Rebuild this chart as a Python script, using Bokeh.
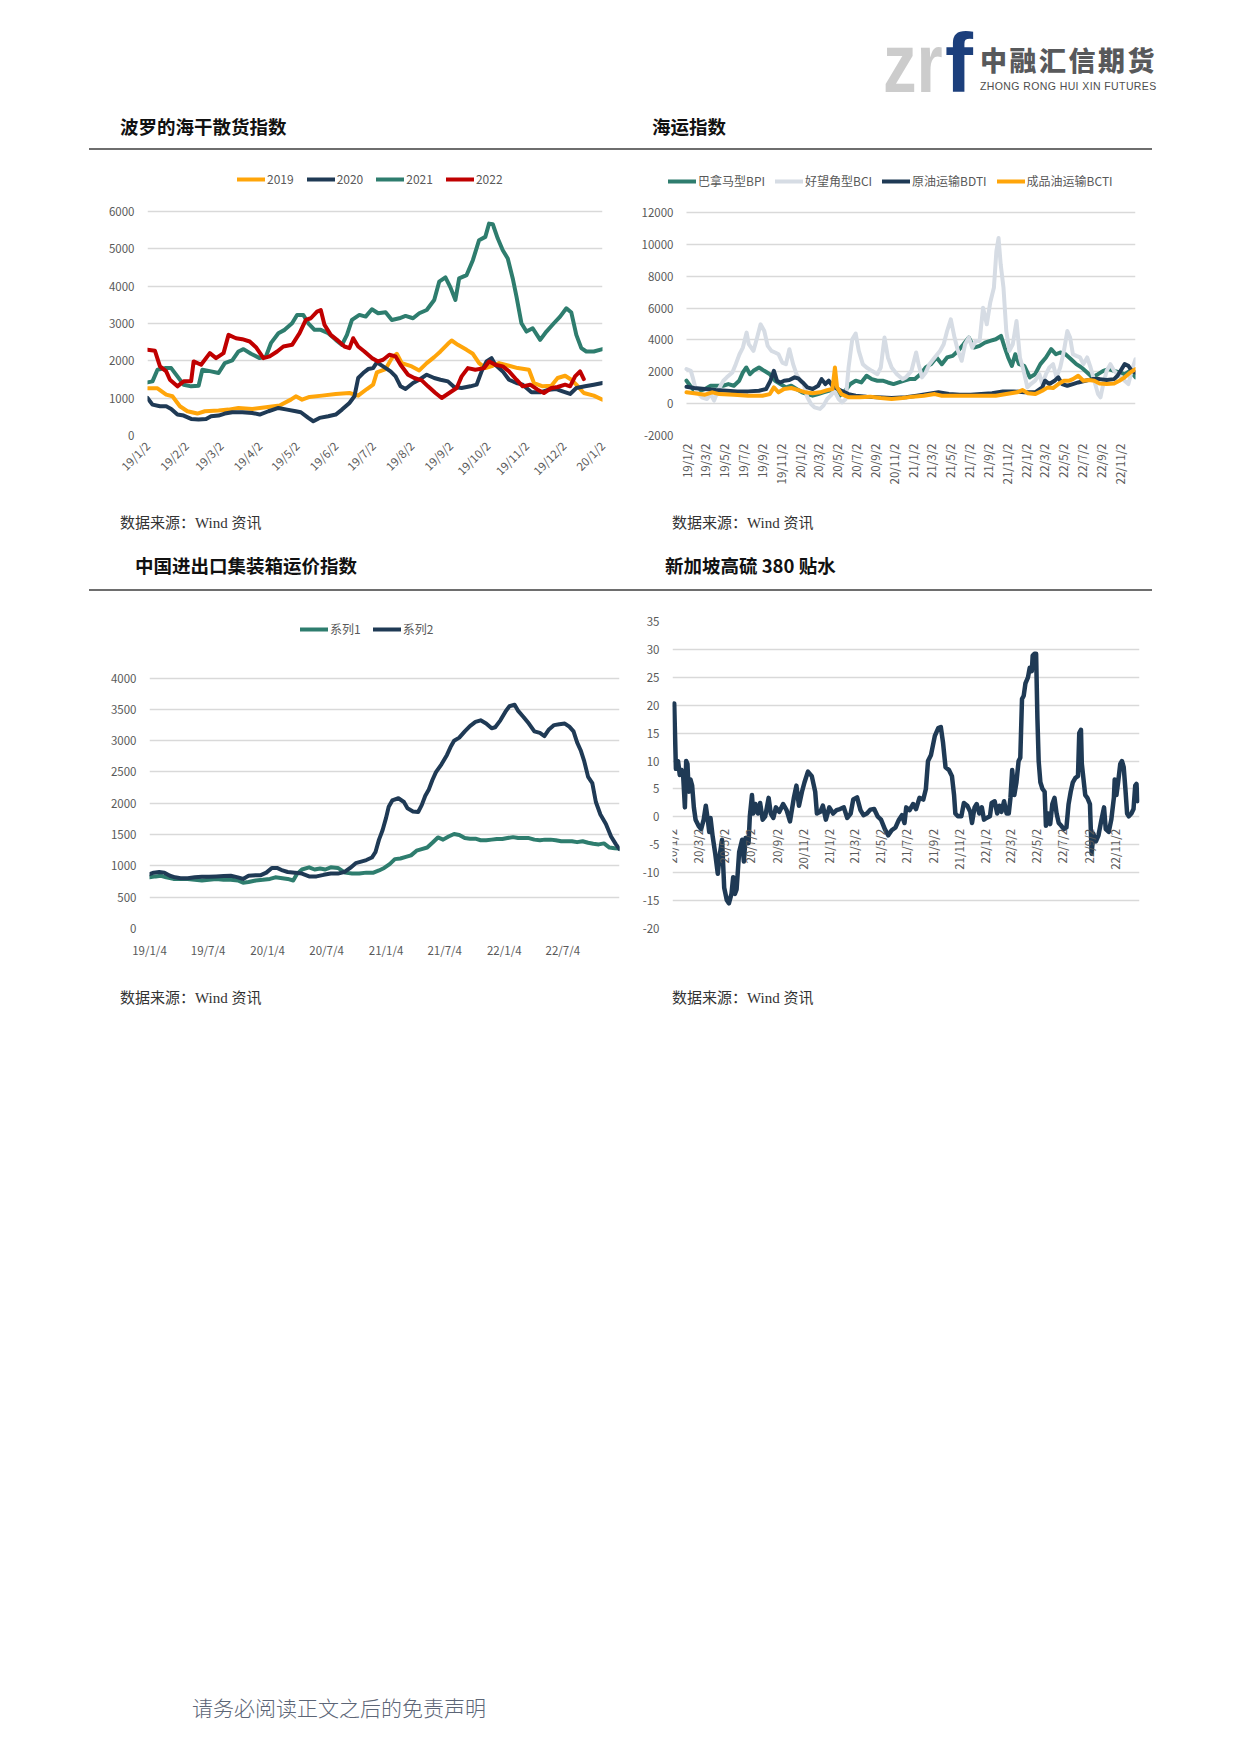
import math
from datetime import datetime
from bokeh.plotting import figure
from bokeh.models import Range1d, FixedTicker, Legend, LegendItem, Div, Spacer, Grid
from bokeh.layouts import column, row
from bokeh.embed import file_html
from bokeh.resources import INLINE

FONT = "Noto Sans CJK SC"
TEAL = "#2E7D6E"
NAVY = "#1F3A55"
ORANGE = "#FFA50A"
RED = "#C00000"
SILVER = "#D6DCE4"

# ---------------- chart 1: BDI seasonal (days since 19/1/2) ----------------
bdi_ticks = ["19/1/2", "19/2/2", "19/3/2", "19/4/2", "19/5/2", "19/6/2", "19/7/2",
             "19/8/2", "19/9/2", "19/10/2", "19/11/2", "19/12/2", "20/1/2"]
bdi_names = ["2019", "2020", "2021", "2022"]
bdi2019_day = [0, 8, 15, 20, 26, 32, 40, 46, 57, 65, 73, 84, 95, 106, 115, 119, 124, 130, 140, 151,
               162, 169, 176, 181, 184, 191, 196, 200, 204, 212, 218, 224, 230, 235, 241, 244, 249, 256, 261, 266,
               271, 277, 282, 290, 297, 306, 310, 317, 324, 329, 335, 340, 344, 350, 358, 365]
bdi2019 = [1262, 1262, 1093, 1049, 782, 649, 587, 649, 667, 693, 738, 711, 756, 800, 960, 1049, 960, 1031, 1067, 1111,
           1138, 1067, 1244, 1360, 1689, 1778, 2071, 2187, 1938, 1849, 1742, 1938, 2098, 2249, 2453, 2542, 2427, 2293, 2187, 1938,
           1804, 1867, 1938, 1867, 1804, 1760, 1404, 1316, 1333, 1538, 1600, 1493, 1360, 1138, 1067, 960]
bdi2020_day = [0, 4, 10, 15, 19, 24, 29, 35, 41, 47, 51, 57, 62, 68, 76, 84, 90, 97, 101, 105,
               112, 119, 123, 129, 133, 138, 145, 151, 156, 162, 166, 169, 173, 177, 181, 184, 189, 195, 199, 203,
               207, 213, 218, 224, 230, 235, 241, 246, 252, 259, 264, 268, 272, 276, 279, 285, 290, 296, 301, 308,
               315, 322, 328, 333, 339, 344, 351, 358, 365]
bdi2020 = [1004, 827, 782, 782, 711, 560, 533, 444, 427, 444, 516, 533, 587, 622, 622, 604, 560, 649, 693, 738,
           693, 649, 622, 471, 382, 471, 516, 560, 693, 871, 1049, 1538, 1671, 1778, 1804, 1956, 1849, 1716, 1582, 1316,
           1244, 1404, 1493, 1627, 1538, 1493, 1449, 1298, 1271, 1316, 1360, 1716, 1982, 2071, 1893, 1716, 1493, 1404, 1360, 1156,
           1156, 1227, 1244, 1182, 1111, 1271, 1316, 1360, 1404]
bdi2021_day = [0, 4, 8, 14, 19, 24, 29, 35, 41, 44, 51, 57, 62, 68, 73, 77, 83, 90, 95, 99,
               105, 110, 116, 120, 125, 129, 134, 139, 145, 151, 156, 160, 164, 170, 175, 180, 185, 191, 196, 202,
               207, 213, 218, 224, 230, 234, 239, 243, 247, 250, 256, 261, 266, 271, 274, 277, 281, 285, 289, 293,
               296, 300, 304, 309, 315, 320, 326, 331, 336, 340, 344, 348, 352, 358, 365]
bdi2021 = [1422, 1449, 1760, 1804, 1804, 1582, 1360, 1316, 1333, 1760, 1716, 1671, 1938, 2009, 2249, 2311, 2187, 2071, 2116, 2471,
           2738, 2827, 3004, 3227, 3227, 3004, 2827, 2827, 2738, 2560, 2427, 2693, 3093, 3227, 3182, 3378, 3271, 3298, 3093, 3138,
           3200, 3138, 3271, 3360, 3627, 4116, 4231, 3964, 3627, 4204, 4293, 4693, 5227, 5316, 5671, 5653, 5271, 4960, 4738, 4204,
           3716, 3004, 2782, 2871, 2560, 2782, 3004, 3182, 3404, 3289, 2693, 2338, 2249, 2249, 2311]
bdi2022_day = [0, 6, 10, 15, 18, 24, 29, 35, 37, 43, 50, 55, 61, 65, 71, 76, 82, 87, 93, 98,
               104, 109, 116, 122, 127, 131, 136, 139, 142, 147, 152, 158, 162, 165, 169, 174, 180, 185, 189, 194,
               199, 203, 209, 214, 220, 225, 231, 236, 242, 248, 252, 257, 263, 270, 274, 279, 285, 290, 296, 301,
               307, 313, 318, 324, 329, 335, 339, 343, 347, 350]
bdi2022 = [2293, 2267, 1849, 1716, 1493, 1316, 1449, 1449, 1982, 1893, 2204, 2071, 2204, 2693, 2604, 2578, 2516, 2364, 2071, 2116,
           2249, 2382, 2427, 2738, 3093, 3138, 3316, 3360, 2960, 2693, 2560, 2382, 2338, 2604, 2382, 2249, 2071, 1982, 2027, 2160,
           2116, 1893, 1627, 1538, 1476, 1316, 1138, 1004, 1138, 1271, 1582, 1804, 1760, 1804, 1982, 1893, 1849, 1716, 1493, 1316,
           1360, 1227, 1138, 1271, 1298, 1360, 1316, 1582, 1716, 1511]

# ---------------- chart 2: shipping indices (days since 19/1/2) ----------------
ship_ticks = ["19/1/2", "19/3/2", "19/5/2", "19/7/2", "19/9/2", "19/11/2", "20/1/2", "20/3/2",
              "20/5/2", "20/7/2", "20/9/2", "20/11/2", "21/1/2", "21/3/2", "21/5/2", "21/7/2",
              "21/9/2", "21/11/2", "22/1/2", "22/3/2", "22/5/2", "22/7/2", "22/9/2", "22/11/2"]
ship_names = ["巴拿马型BPI", "好望角型BCI", "原油运输BDTI", "成品油运输BCTI"]
bpi_day = [0, 12, 25, 43, 60, 78, 95, 118, 135, 153, 170, 182, 193, 205, 216, 234, 251, 269, 286, 303,
           321, 338, 355, 373, 390, 407, 425, 442, 459, 477, 494, 512, 529, 546, 564, 581, 598, 616, 633, 650,
           668, 685, 703, 720, 737, 755, 772, 789, 807, 824, 841, 859, 876, 894, 911, 928, 946, 963, 980, 998,
           1015, 1027, 1038, 1050, 1061, 1073, 1090, 1108, 1125, 1142, 1160, 1177, 1192, 1206, 1223, 1241, 1258, 1275, 1293, 1310,
           1328, 1345, 1362, 1380, 1397, 1414, 1432, 1449]
bpi = [1440, 1125, 810, 810, 920, 1125, 1125, 1125, 1230, 1125, 1440, 1960, 2270, 1850, 2060, 2270, 2060, 1850, 1440, 1230,
       1020, 1125, 920, 710, 600, 500, 600, 710, 810, 920, 500, 810, 1230, 1440, 1330, 1750, 1540, 1440, 1440, 1330,
       1230, 1330, 1440, 1540, 1540, 1850, 2270, 2480, 2900, 2480, 2900, 3000, 3310, 3730, 4150, 3520, 3625, 3830, 3940, 4040,
       4250, 3520, 2900, 2375, 3100, 2480, 2375, 1650, 1850, 2480, 2900, 3420, 3100, 3210, 3100, 2790, 2480, 2270, 1960, 1650,
       1850, 2060, 2170, 2060, 1960, 1850, 2060, 1650]
bci_day = [0, 14, 20, 31, 49, 66, 78, 89, 101, 119, 130, 148, 159, 171, 182, 194, 201, 216, 228, 239,
           251, 262, 274, 286, 297, 309, 321, 332, 344, 355, 367, 378, 390, 402, 413, 431, 442, 454, 465, 477,
           491, 502, 514, 523, 535, 546, 556, 569, 581, 598, 616, 627, 639, 650, 662, 679, 697, 708, 726, 741,
           749, 760, 772, 784, 801, 818, 830, 841, 853, 865, 876, 888, 899, 911, 922, 934, 946, 957, 969, 980,
           992, 1000, 1007, 1014, 1023, 1032, 1042, 1053, 1065, 1076, 1088, 1100, 1111, 1125, 1139, 1148, 1160, 1171, 1183, 1194,
           1206, 1218, 1229, 1238, 1247, 1258, 1270, 1281, 1293, 1304, 1316, 1328, 1336, 1345, 1356, 1368, 1380, 1391, 1403, 1414,
           1426, 1437, 1449]
bci = [2170, 2060, 1650, 810, 400, 290, 600, 190, 810, 1440, 1650, 1960, 2480, 3100, 3520, 4460, 3730, 3310, 4150, 4980,
       4560, 3625, 3310, 3210, 3100, 2580, 2480, 3420, 2480, 1850, 1440, 1230, 400, -20, -230, -330, -125, 290, 500, 810,
       290, 80, 290, 2270, 4040, 4400, 3310, 2480, 2270, 2060, 1850, 2270, 4150, 2900, 2270, 1850, 1540, 1650, 2060, 3210,
       2480, 1650, 1960, 2480, 2900, 3310, 3730, 4560, 5290, 4150, 3310, 2690, 3730, 4150, 3520, 3940, 3940, 6020, 4980, 6330,
       7270, 9560, 10400, 8730, 7270, 4560, 3310, 3730, 5190, 2900, 2060, 1020, 1230, 1440, 1850, 1230, 1850, 2270, 2480, 1650,
       2270, 3310, 4560, 4150, 3100, 3000, 2900, 2480, 2900, 2270, 1440, 600, 400, 1230, 2060, 2480, 2060, 1850, 1650, 1440,
       1230, 2060, 2790]
bdti_day = [0, 25, 60, 95, 130, 164, 199, 234, 257, 271, 282, 292, 303, 315, 332, 349, 361, 375, 390, 407,
            425, 436, 448, 459, 471, 482, 500, 523, 546, 581, 616, 662, 708, 743, 778, 813, 847, 882, 917, 951,
            986, 1021, 1056, 1090, 1125, 1148, 1157, 1171, 1188, 1200, 1212, 1229, 1247, 1264, 1287, 1310, 1333, 1356, 1380, 1391,
            1414, 1426, 1437, 1449]
bdti = [1060, 980, 920, 850, 810, 770, 770, 810, 920, 1440, 2060, 1440, 1330, 1440, 1480, 1650, 1580, 1330, 1020, 920,
        1125, 1540, 1230, 1440, 1125, 980, 810, 600, 500, 440, 400, 350, 400, 500, 600, 710, 600, 560, 560, 600,
        650, 770, 770, 710, 710, 1020, 1440, 1230, 1440, 1650, 1230, 1125, 1230, 1330, 1440, 1540, 1540, 1480, 1540, 1750,
        2480, 2375, 2060, 1960]
bcti_day = [0, 25, 60, 83, 106, 153, 199, 245, 269, 282, 297, 315, 338, 361, 384, 407, 431, 454, 471, 479,
            486, 500, 523, 558, 593, 627, 662, 697, 731, 766, 801, 824, 859, 894, 928, 963, 998, 1032, 1067, 1084,
            1102, 1125, 1148, 1166, 1183, 1200, 1218, 1235, 1247, 1264, 1281, 1299, 1316, 1333, 1356, 1380, 1397, 1414, 1432, 1449]
bcti = [710, 650, 560, 710, 600, 560, 500, 500, 600, 1020, 710, 920, 980, 850, 710, 650, 710, 850, 920, 2270,
        1020, 600, 400, 400, 440, 350, 290, 350, 440, 500, 600, 500, 500, 500, 500, 500, 500, 600, 710, 850,
        650, 600, 810, 1020, 980, 1230, 1440, 1440, 1540, 1750, 1440, 1480, 1440, 1270, 1230, 1270, 1440, 1650, 1960, 2170]

# ---------------- chart 3: container freight index (days since 19/1/4) ----------------
ccfi_ticks = ["19/1/4", "19/7/4", "20/1/4", "20/7/4", "21/1/4", "21/7/4", "22/1/4", "22/7/4"]
ccfi_names = ["系列1", "系列2"]
s1_day = [0, 19, 35, 52, 74, 96, 118, 140, 162, 184, 206, 229, 251, 273, 289, 306, 328, 350, 372, 389,
          405, 427, 444, 455, 471, 493, 510, 527, 543, 560, 582, 604, 626, 648, 670, 692, 709, 725, 742, 758,
          775, 792, 808, 825, 841, 858, 874, 891, 907, 924, 941, 957, 974, 990, 1007, 1023, 1040, 1057, 1073, 1090,
          1106, 1123, 1139, 1156, 1172, 1189, 1206, 1222, 1239, 1255, 1272, 1288, 1305, 1321, 1338, 1355, 1371, 1388, 1404, 1421,
          1437, 1452]
s1 = [817, 832, 842, 817, 792, 792, 792, 777, 767, 777, 792, 777, 777, 767, 732, 742, 767, 777, 792, 817,
      807, 792, 767, 867, 942, 977, 942, 957, 942, 977, 967, 892, 877, 877, 892, 892, 927, 967, 1028, 1108,
      1118, 1143, 1168, 1243, 1268, 1293, 1369, 1454, 1419, 1469, 1509, 1494, 1444, 1434, 1434, 1409, 1409, 1419, 1429, 1429,
      1444, 1459, 1444, 1444, 1444, 1419, 1409, 1419, 1419, 1409, 1394, 1394, 1394, 1379, 1394, 1369, 1354, 1343, 1359, 1293,
      1283, 1278]
s2_day = [0, 13, 30, 46, 63, 79, 96, 118, 140, 162, 184, 206, 229, 251, 273, 289, 306, 328, 344, 361,
          378, 394, 411, 427, 449, 471, 493, 516, 538, 560, 582, 604, 620, 637, 654, 670, 687, 698, 709, 720,
          731, 739, 750, 769, 786, 797, 814, 830, 841, 852, 863, 874, 885, 902, 919, 930, 941, 957, 974, 990,
          1007, 1023, 1040, 1057, 1068, 1084, 1101, 1112, 1128, 1139, 1156, 1172, 1189, 1206, 1220, 1233, 1250, 1266, 1283, 1297,
          1310, 1321, 1332, 1343, 1355, 1368, 1379, 1393, 1410, 1426, 1441, 1452]
s2 = [867, 892, 902, 892, 842, 817, 802, 802, 817, 827, 827, 832, 837, 842, 817, 792, 842, 852, 852, 892,
      967, 967, 927, 902, 892, 877, 832, 832, 857, 877, 877, 907, 967, 1043, 1068, 1093, 1133, 1218, 1419, 1569,
      1770, 1945, 2045, 2080, 2020, 1920, 1870, 1860, 1970, 2120, 2221, 2371, 2496, 2622, 2772, 2897, 2998, 3048, 3148, 3233,
      3298, 3324, 3273, 3198, 3213, 3324, 3474, 3549, 3574, 3474, 3374, 3273, 3148, 3123, 3073, 3173, 3248, 3263, 3273, 3223,
      3148, 2973, 2847, 2672, 2421, 2321, 2020, 1820, 1669, 1469, 1343, 1268]

# ---------------- chart 4: Singapore HSFO 380 spread (days since 20/1/2) ----------------
sgp_ticks = ["20/1/2", "20/3/2", "20/5/2", "20/7/2", "20/9/2", "20/11/2", "21/1/2", "21/3/2", "21/5/2",
             "21/7/2", "21/9/2", "21/11/2", "22/1/2", "22/3/2", "22/5/2", "22/7/2", "22/9/2", "22/11/2"]
sgp_day = [2, 4, 6, 8, 13, 17, 21, 25, 29, 32,
           35, 38, 42, 46, 50, 54, 61, 67, 73, 78,
           82, 86, 89, 94, 100, 106, 111, 116, 121, 127,
           132, 138, 142, 146, 150, 156, 163, 167, 171, 178,
           181, 186, 189, 194, 200, 205, 211, 217, 225, 230,
           236, 242, 250, 259, 267, 275, 284, 290, 296, 303,
           309, 317, 326, 334, 338, 346, 352, 359, 367, 376,
           384, 392, 401, 409, 417, 423, 432, 440, 447, 455,
           463, 472, 480, 488, 497, 505, 513, 522, 530, 537,
           543, 547, 555, 563, 570, 578, 587, 593, 598, 605,
           614, 622, 628, 633, 639, 647, 654, 659, 662, 668,
           676, 682, 690, 697, 701, 707, 712, 718, 724, 729,
           735, 743, 747, 754, 760, 765, 770, 776, 782, 787,
           791, 795, 800, 805, 810, 814, 818, 822, 826, 832,
           836, 841, 843, 847, 851, 854, 857, 861, 866, 871,
           874, 879, 884, 889, 894, 899, 904, 910, 916, 922,
           927, 932, 937, 943, 949, 952, 956, 958, 962, 966,
           971, 977, 981, 985, 991, 997, 1004, 1010, 1014, 1021,
           1027, 1033, 1035, 1039, 1043, 1048, 1052, 1056, 1060, 1064,
           1068, 1074, 1079, 1083, 1086, 1088]
sgp_val = [20.0, 20.3, 14.5, 8.6, 10.0, 7.5, 8.4, 7.3, 1.7, 10.0,
           9.5, 4.5, 6.7, 5.6, 1.7, -0.5, -1.6, -2.2, -0.5, 2.0,
           -0.2, -2.7, -0.2, -3.5, -6.6, -10.2, -6.6, -4.1, -12.7, -14.9,
           -15.5, -13.8, -10.8, -13.8, -13.0, -6.3, -4.1, -8.0, -3.8, -4.7,
           0.1, 3.9, 0.6, 2.3, 0.6, 2.5, -0.5, 0.1, 3.4, 0.6,
           -0.2, 1.7, 0.9, 2.3, 1.2, -0.8, 3.4, 5.6, 2.0, 4.5,
           6.2, 8.1, 7.3, 4.5, 0.6, 0.9, 2.0, -0.5, 1.7, 0.6,
           1.2, 1.4, 1.7, -0.2, 0.6, 3.1, 3.5, 1.2, 0.3, 0.6,
           1.3, 1.4, 0.1, -0.5, -2.2, -3.3, -2.4, -1.9, -0.5, 0.3,
           -1.1, 1.7, 1.2, 2.3, 1.4, 3.4, 3.1, 5.0, 10.0, 11.1,
           14.5, 15.9, 16.1, 13.4, 8.9, 8.4, 7.3, 3.9, 0.6, 0.1,
           0.1, 2.5, 2.0, 0.9, -1.1, 1.7, 2.3, 0.6, 1.7, -0.5,
           -0.2, 0.1, 2.5, 2.8, 0.6, 2.0, 0.9, 2.8, 0.6, 0.6,
           3.4, 8.4, 3.9, 6.2, 10.0, 10.6, 21.1, 21.7, 23.9, 25.0,
           26.7, 26.1, 28.9, 29.2, 29.2, 17.8, 10.0, 6.2, 5.0, 4.5,
           -1.6, 0.6, -1.3, 2.3, 3.4, 0.6, -1.1, -1.6, -2.2, -1.9,
           2.3, 4.5, 6.2, 7.0, 7.3, 15.0, 15.6, 9.5, 6.7, 3.9,
           3.4, 2.3, -6.6, -3.0, -4.4, -3.3, -0.5, 1.7, -2.2, -2.7,
           -0.5, 3.4, 6.7, 3.9, 6.2, 9.5, 10.0, 8.9, 5.0, 0.6,
           0.1, 0.6, 1.4, 5.6, 5.9, 2.8]

titles = ["波罗的海干散货指数", "海运指数", "中国进出口集装箱运价指数", "新加坡高硫 380 贴水"]
source_text = "数据来源：Wind 资讯"
footer_text = "请务必阅读正文之后的免责声明"

HAS_CROSS = "cross_bounds" in Grid.properties()


def day_ticks(labels):
    b = datetime.strptime(labels[0], "%y/%m/%d")
    return [(datetime.strptime(s, "%y/%m/%d") - b).days for s in labels]


def base_fig(w, h, bl, br, bt, bb, x0, x_end, y0, y_top, tick_max, ystep, xlabels):
    p = figure(width=w, height=h, x_range=Range1d(x0, x_end), y_range=Range1d(y0, y_top),
               output_backend="svg", toolbar_location=None, title=None,
               min_border_left=bl, min_border_right=br, min_border_top=bt, min_border_bottom=bb)
    p.outline_line_color = None
    p.background_fill_color = "white"
    p.border_fill_color = "white"
    p.xgrid.visible = False
    p.ygrid.grid_line_color = "#D9D9D9"
    p.ygrid.grid_line_width = 1.5
    yt = list(range(y0, tick_max + 1, ystep))
    p.yaxis.ticker = FixedTicker(ticks=yt)
    p.yaxis.major_label_overrides = {t: str(t) for t in yt}
    xt = day_ticks(xlabels)
    p.xaxis.ticker = FixedTicker(ticks=xt)
    p.xaxis.major_label_overrides = dict(zip(xt, xlabels))
    for ax in p.axis:
        ax.axis_line_color = None
        ax.major_tick_line_color = None
        ax.minor_tick_line_color = None
        ax.major_tick_in = 0
        ax.major_tick_out = 0
        ax.minor_tick_in = 0
        ax.minor_tick_out = 0
        ax.major_label_text_font = FONT
        ax.major_label_text_font_size = "11.5px"
        ax.major_label_text_color = "#595959"
    p.yaxis.major_label_standoff = 13
    return p


def add_legend(p, names, rends, vx, vy, spacing):
    # (vx, vy): legend's left / bottom, measured from the frame's bottom-left corner
    leg = Legend(items=[LegendItem(label=n, renderers=[r]) for n, r in zip(names, rends)],
                 orientation="horizontal", location=(vx, vy),
                 border_line_color=None, background_fill_alpha=0, padding=0, margin=0,
                 spacing=spacing, label_standoff=2, glyph_width=28, glyph_height=16, label_height=16,
                 label_text_font=FONT, label_text_font_size="12px", label_text_color="#595959")
    p.add_layout(leg)


LW = dict(line_width=4, line_join="round", line_cap="round")

# chart 1 : frame 147..602 x 160..436 (6000 gridline at 211)
p1 = base_fig(620, 358, 139, 26, 8, 74, 0, 365, 0, 6000 * 276 / 225, 6000, 1000, bdi_ticks)
p1.xaxis.major_label_orientation = math.pi / 4
p1.xaxis.major_label_standoff = 8
r = []
for d, v, c in [(bdi2019_day, bdi2019, ORANGE), (bdi2020_day, bdi2020, NAVY),
                (bdi2021_day, bdi2021, TEAL), (bdi2022_day, bdi2022, RED)]:
    r.append(p1.line(d, v, line_color=c, **LW))
add_legend(p1, bdi_names, r, 90, 248, 13)

# chart 2 : data area 686..1135 x 160..435 (12000 gridline at 212)
ship_end = 1449
if HAS_CROSS:
    # frame reaches 18px further left so the legend can start there; grid lines keep to the data span
    ext = 18 * ship_end / 449
    p2 = base_fig(605, 358, 40, 98, 8, 75, -ext, ship_end, -2000, -2000 + 14000 * 275 / 223, 12000, 2000, ship_ticks)
    p2.ygrid.cross_bounds = (0, ship_end)
    p2.yaxis.major_label_standoff = -5
else:
    p2 = base_fig(605, 358, 58, 98, 8, 75, 0, ship_end, -2000, -2000 + 14000 * 275 / 223, 12000, 2000, ship_ticks)
p2.xaxis.major_label_orientation = math.pi / 2
p2.xaxis.major_label_standoff = 8
r = []
for d, v, c in [(bpi_day, bpi, TEAL), (bci_day, bci, SILVER),
                (bdti_day, bdti, NAVY), (bcti_day, bcti, ORANGE)]:
    r.append(p2.line(d, v, line_color=c, **LW))
add_legend(p2, ship_names, r, 0, 246, 10)

# chart 3 : frame 149..619 x 602..928 (4000 gridline at 662)
p3 = base_fig(620, 388, 141, 9, 5, 57, 0, 1452, 0, 4000 * 326 / 266, 4000, 500, ccfi_ticks)
p3.xaxis.major_label_standoff = 13
r = []
for d, v, c in [(s1_day, s1, TEAL), (s2_day, s2, NAVY)]:
    r.append(p3.line(d, v, line_color=c, **LW))
add_legend(p3, ccfi_names, r, 151, 291, 12)

# chart 4 : frame 672..1139 x 621..951
p4 = base_fig(605, 388, 44, 94, 24, 34, 0, 1093, -20, 35, 35, 5, sgp_ticks)
p4.xaxis.fixed_location = 0
p4.xaxis.major_label_orientation = math.pi / 2
p4.xaxis.major_label_standoff = 12
p4.line(sgp_day, sgp_val, line_color=NAVY, line_width=4.5, line_join="round", line_cap="round")


# ---------------- page texts ----------------
def txt(s, left, top, size, lh, color, weight="normal", family=FONT, extra=""):
    return (f'<div style="position:absolute;left:{left}px;top:{top}px;font-size:{size}px;'
            f'line-height:{lh}px;color:{color};font-weight:{weight};font-family:{family};'
            f'white-space:nowrap;{extra}">{s}</div>')


def hline(top):
    return f'<div style="position:absolute;left:81px;top:{top}px;width:1063px;height:2px;background:#6E6E6E;"></div>'


def box(w, h, inner):
    return f'<div style="position:relative;width:{w}px;height:{h}px;">{inner}</div>'


SRC_FONT = "'Liberation Serif','Noto Sans CJK SC'"
TFONT = "'Noto Sans CJK SC'"

header_html = box(1225, 144,
                  txt("zr", 875, 13, 84, 84, "#CCCCCC", "bold", "'Liberation Sans'",
                      "transform:scaleX(0.8);transform-origin:left top;")
                  + txt("f", 937, 13, 84, 84, "#1C3F7C", "bold", "'Liberation Sans'")
                  + txt("中融汇信期货", 972, 38, 27, 28, "#58595B", "900", TFONT, "letter-spacing:2.5px;")
                  + txt("ZHONG RONG HUI XIN FUTURES", 972, 72, 10.5, 12, "#4D4D4D", "normal",
                        "'Liberation Sans'", "letter-spacing:0.4px;")
                  + txt(titles[0], 112, 106, 18.5, 24, "#111111", "bold", TFONT)
                  + txt(titles[1], 644, 106, 18.5, 24, "#111111", "bold", TFONT)
                  + hline(140))

mid_html = box(1225, 87,
               txt(source_text, 112, 3, 15, 20, "#333333", "normal", SRC_FONT)
               + txt(source_text, 664, 3, 15, 20, "#333333", "normal", SRC_FONT)
               + txt(titles[2], 127, 43, 18.5, 24, "#111111", "bold", TFONT)
               + txt(titles[3], 657, 43, 18.5, 24, "#111111", "bold", TFONT)
               + hline(79))

bottom_html = box(1225, 745,
                  txt(source_text, 112, 3, 15, 20, "#333333", "normal", SRC_FONT)
                  + txt(source_text, 664, 3, 15, 20, "#333333", "normal", SRC_FONT)
                  + txt(footer_text, 184, 708, 21, 28, "#5C6576", "300", TFONT))

header = Div(text=header_html, width=1225, height=144, margin=0)
mid = Div(text=mid_html, width=1225, height=87, margin=0)
bottom = Div(text=bottom_html, width=1225, height=745, margin=0)

body = column(header, row(p1, p2, spacing=0), mid, row(p3, p4, spacing=0), bottom, spacing=0)
page = row(Spacer(width=8), column(Spacer(height=8), body, spacing=0), spacing=0)

open("out.html", "w").write(file_html(page, INLINE))
